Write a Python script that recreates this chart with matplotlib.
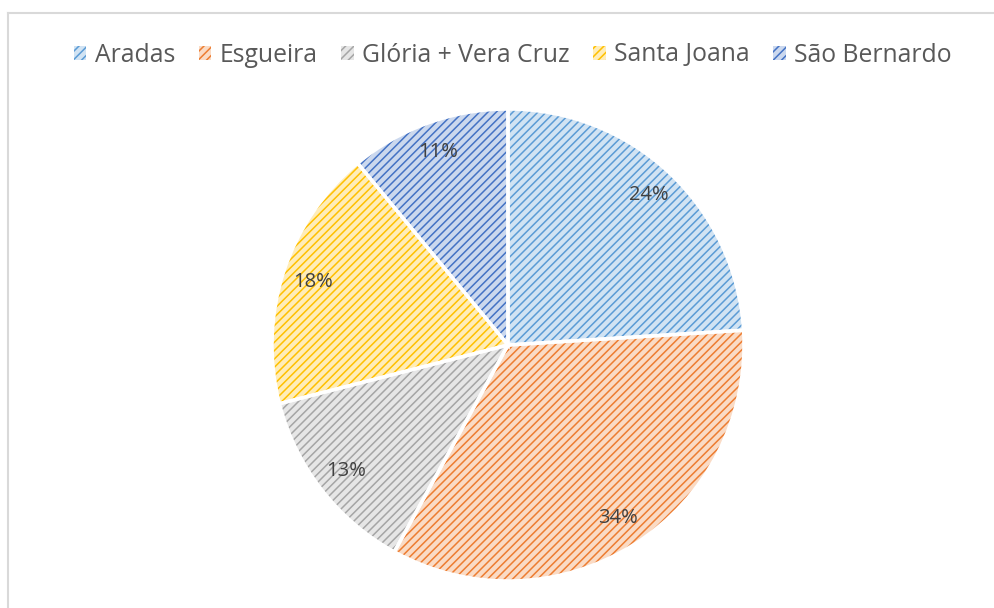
import matplotlib
matplotlib.use("Agg")
import matplotlib.pyplot as plt
from matplotlib.lines import Line2D
from matplotlib.colors import to_rgb

# Share of each parish
labels = ["Aradas", "Esgueira", "Glória + Vera Cruz", "Santa Joana", "São Bernardo"]
shares = [24, 34, 13, 18, 11]
colors = ["#5B9BD5", "#ED7D31", "#A5A5A5", "#FFC000", "#4472C4"]

plt.rcParams['font.family'] = ['Open Sans', 'DejaVu Sans']
plt.rcParams['hatch.linewidth'] = 1.1

def tint(c, amount=0.72):
    r, g, b = to_rgb(c)
    return (r + (1 - r) * amount, g + (1 - g) * amount, b + (1 - b) * amount)

fig = plt.figure(figsize=(9.94, 6.08), dpi=100)
ax = fig.add_axes([0, 0, 1, 1])

center = (508, 263)
radius = 236

wedges, _, autotexts = ax.pie(shares, colors=[tint(c) for c in colors], startangle=90,
                              counterclock=False, center=center, radius=radius,
                              autopct='%d%%', pctdistance=0.87, frame=True,
                              textprops=dict(color='#404040', fontsize=14.5))
for w, c in zip(wedges, colors):
    w.set_hatch('////')
    w.set_edgecolor(c)
    w.set_linewidth(0)

# white separators drawn on top
ax.pie(shares, colors=['none'] * 5, startangle=90, counterclock=False,
       center=center, radius=radius, frame=True,
       wedgeprops=dict(edgecolor='white', linewidth=2.5))
ax.set_xlim(0, 994)
ax.set_ylim(0, 608)
ax.set_aspect('equal')
ax.axis('off')

# chart frame
fig.add_artist(Line2D([8 / 994, 1], [1 - 13 / 608, 1 - 13 / 608], color='#d9d9d9', lw=1.5))
fig.add_artist(Line2D([8 / 994, 8 / 994], [0, 1 - 13 / 608], color='#d9d9d9', lw=1.5))

leg = fig.legend(wedges, labels, loc='center', bbox_to_anchor=(0.516, 1 - 55 / 608), ncol=5,
                 frameon=False, fontsize=17.8, handlelength=0.5, handleheight=0.5,
                 handletextpad=0.35, columnspacing=0.95, labelcolor='#595959')

fig.savefig("out.png", dpi=100)
